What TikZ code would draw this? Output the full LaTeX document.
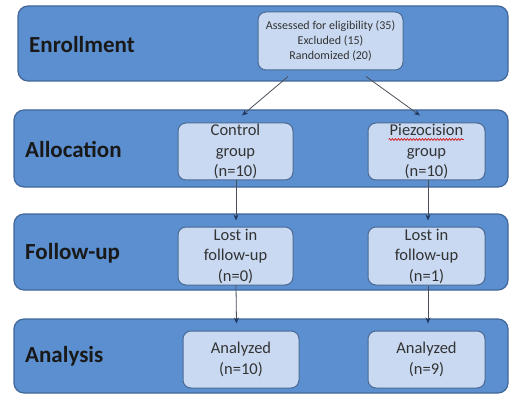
\documentclass[tikz,border=0pt]{standalone}
\usepackage{fontspec}
\setmainfont{Carlito}
\usetikzlibrary{arrows.meta,calc,decorations.pathmorphing}
\definecolor{bandfill}{HTML}{5B8FCF}
\definecolor{bandline}{HTML}{41679A}
\definecolor{boxfill}{HTML}{C8D9F1}
\definecolor{boxline}{HTML}{4A6A94}
\definecolor{arrline}{HTML}{4A4F58}
\definecolor{tipcol}{HTML}{1F3864}
\tikzset{
  band/.style={draw=bandline, line width=1.2pt, fill=bandfill, rounded corners=10pt, inner sep=0pt},
  bandlabel/.style={anchor=west, font=\fontsize{23}{26}\selectfont\bfseries, text=black!90, inner sep=0pt},
  stage/.style={draw=boxline, line width=1pt, fill=boxfill, rounded corners=8pt, inner sep=0pt, align=center,
    font=\fontsize{16.5}{20.5}\selectfont, text=black!80},
  enrbox/.style={stage, font=\fontsize{12}{15}\selectfont},
  arr/.style={draw=arrline, line width=0.8pt, -{Stealth[length=6pt,width=5pt,color=tipcol]}}
}
\begin{document}
\begin{tikzpicture}[x=1pt,y=-1pt]
\useasboundingbox (0,0) rectangle (510,395);
% bands
\node[band, minimum width=490pt, minimum height=75pt] (benr) at (263,43.5) {};
\node[band, minimum width=494pt, minimum height=77pt] (ball) at (261,148.5) {};
\node[band, minimum width=494pt, minimum height=76pt] (bfol) at (261,252) {};
\node[band, minimum width=494pt, minimum height=74pt] (bana) at (261,356) {};
% labels
\node[bandlabel] (lenr) at (29,45) {Enrollment};
\node[bandlabel] (lall) at (25,149.5) {Allocation};
\node[bandlabel] (lfol) at (25,253) {Follow-up};
\node[bandlabel] (lana) at (25,356.5) {Analysis};
% boxes
\node[enrbox, minimum width=145pt, minimum height=58pt] (enr) at (330.5,41) {Assessed for eligibility (35)\\Excluded (15)\\Randomized (20)};
\node[stage, minimum width=115pt, minimum height=57pt] (ctl) at (235.5,151.5) {Control\\group\\(n=10)};
\node[stage, minimum width=117pt, minimum height=57pt] (pie) at (426.5,151.5) {Piezocision\\group\\(n=10)};
\node[stage, minimum width=115pt, minimum height=58pt] (fl) at (235.5,256) {Lost in\\follow-up\\(n=0)};
\node[stage, minimum width=117pt, minimum height=58pt] (fr) at (426.5,256) {Lost in\\follow-up\\(n=1)};
\node[stage, minimum width=116pt, minimum height=57pt] (al) at (241,359.5) {Analyzed\\(n=10)};
\node[stage, minimum width=117pt, minimum height=57pt] (ar) at (426.5,359.5) {Analyzed\\(n=9)};
% spell-check underline
\coordinate (wl) at ($(pie.north)+(-38,17)$);
\coordinate (wr) at ($(pie.north)+(37,17)$);
\draw[red!85!black, line width=0.6pt, decorate, decoration={snake, amplitude=0.9pt, segment length=3pt}] (wl) -- (wr);
% arrows
\coordinate (s1) at ($(enr.south)+(-42.5,6)$);
\coordinate (s2) at ($(enr.south)+(35.5,6)$);
\coordinate (t1) at ($(ctl.north)+(6.5,-7)$);
\coordinate (t2) at ($(pie.north)+(-6.5,-7)$);
\draw[arr] (s1) -- (t1);
\draw[arr] (s2) -- (t2);
\coordinate (c1) at ($(ctl.south)+(0.5,0)$);
\coordinate (c2) at ($(fl.north)+(0.5,-6)$);
\draw[arr] (c1) -- (c2);
\coordinate (p1) at ($(pie.south)+(1.5,0)$);
\coordinate (p2) at ($(fr.north)+(1.5,-6)$);
\draw[arr] (p1) -- (p2);
\coordinate (d1) at ($(fl.south)+(0.5,0)$);
\coordinate (d2) at ($(al.north)+(-4.5,-7)$);
\draw[arr] (d1) -- (d2);
\coordinate (e1) at ($(fr.south)+(1.5,0)$);
\coordinate (e2) at ($(ar.north)+(1.5,-7)$);
\draw[arr] (e1) -- (e2);
\end{tikzpicture}
\end{document}
